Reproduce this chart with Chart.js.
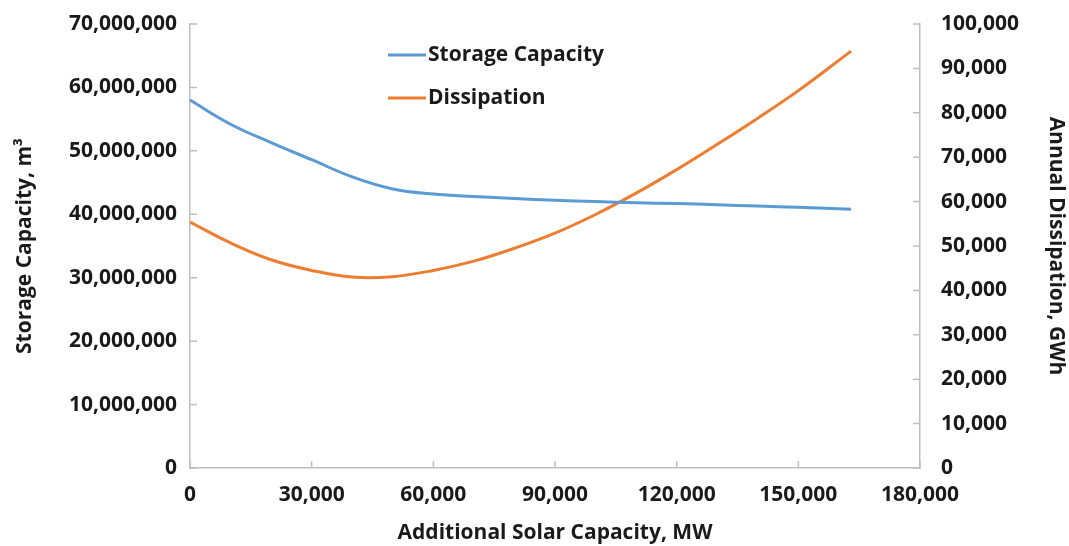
<!DOCTYPE html>
<html>
<head>
<meta charset="utf-8">
<script src="https://cdn.jsdelivr.net/npm/chart.js@4.4.1/dist/chart.umd.min.js"></script>
<style>
  html, body { margin: 0; padding: 0; background: #fff; }
  #wrap { width: 1069px; height: 546px; }
</style>
</head>
<body>
<div id="wrap"><canvas id="chart"></canvas></div>
<script>
// data
const solarMW = [0, 10000, 20000, 30000, 40000, 50000, 60000, 70000, 80000, 90000, 100000, 110000, 120000, 130000, 140000, 150000, 163000];
const storageM3 = [58.0e6, 54.2e6, 51.3e6, 48.6e6, 45.9e6, 44.0e6, 43.2e6, 42.8e6, 42.5e6, 42.2e6, 42.0e6, 41.8e6, 41.7e6, 41.5e6, 41.3e6, 41.1e6, 40.8e6];
const dissipationGWh = [55400, 50700, 46900, 44500, 43000, 43100, 44500, 46600, 49500, 52900, 57100, 61900, 67200, 72900, 78800, 85000, 93900];
const xTicks = [0, 30000, 60000, 90000, 120000, 150000, 180000];

const FONT = "'Open Sans', sans-serif";
const TEXT = "#1a1a1a";
const AXIS = "#bfbfbf";

const toPts = (ys) => solarMW.map((x, i) => ({ x, y: ys[i] }));
const fmt = (v) => Number(v).toLocaleString("en-US");
const boldFont = () => ({ family: FONT, size: 21, weight: "bold" });

// ticks that point into the plot, like the excel original
const innerTicks = {
  id: "innerTicks",
  afterDraw(chart) {
    const { ctx, chartArea: a, scales } = chart;
    ctx.save();
    ctx.strokeStyle = AXIS;
    ctx.lineWidth = 1.5;
    ctx.beginPath();
    scales.x.ticks.forEach((t) => {
      const px = scales.x.getPixelForValue(t.value);
      ctx.moveTo(px, a.bottom); ctx.lineTo(px, a.bottom - 7);
    });
    scales.y.ticks.forEach((t) => {
      const py = scales.y.getPixelForValue(t.value);
      ctx.moveTo(a.left, py); ctx.lineTo(a.left + 7, py);
    });
    scales.y1.ticks.forEach((t) => {
      const py = scales.y1.getPixelForValue(t.value);
      ctx.moveTo(a.right, py); ctx.lineTo(a.right - 7, py);
    });
    ctx.stroke();
    ctx.restore();
  }
};

// legend sitting inside the plot area
const innerLegend = {
  id: "innerLegend",
  afterDraw(chart) {
    const { ctx } = chart;
    ctx.save();
    ctx.font = "bold 21px " + FONT;
    ctx.textBaseline = "middle";
    chart.data.datasets.forEach((ds, i) => {
      const y = 55 + i * 43;
      ctx.strokeStyle = ds.borderColor;
      ctx.lineWidth = 3;
      ctx.beginPath();
      ctx.moveTo(388, y); ctx.lineTo(426, y);
      ctx.stroke();
      ctx.fillStyle = TEXT;
      ctx.fillText(ds.label, 428, y);
    });
    ctx.restore();
  }
};

const fitY = (w) => (s) => { s.width = w; s.paddingTop = 0; s.paddingBottom = 0; };

new Chart(document.getElementById("chart"), {
  type: "line",
  data: {
    datasets: [
      {
        label: "Storage Capacity",
        data: toPts(storageM3),
        yAxisID: "y",
        borderColor: "#5b9bd5",
        borderWidth: 3,
        pointRadius: 0,
        tension: 0.4
      },
      {
        label: "Dissipation",
        data: toPts(dissipationGWh),
        yAxisID: "y1",
        borderColor: "#ed7d31",
        borderWidth: 3,
        pointRadius: 0,
        tension: 0.4
      }
    ]
  },
  options: {
    responsive: true,
    maintainAspectRatio: false,
    animation: false,
    layout: { padding: { top: 24, left: 0, right: 0, bottom: 0 } },
    plugins: { legend: { display: false }, tooltip: { enabled: false } },
    scales: {
      x: {
        type: "linear",
        min: 0,
        max: 180000,
        afterBuildTicks: (s) => { s.ticks = xTicks.map((v) => ({ value: v })); },
        afterFit: (s) => { s.height = 78; },
        grid: { display: false, drawTicks: false },
        border: { color: AXIS, width: 1.5 },
        ticks: { color: TEXT, font: boldFont(), padding: 14, maxRotation: 0, callback: fmt },
        title: { display: true, text: "Additional Solar Capacity, MW", color: TEXT, font: boldFont(), padding: 0 }
      },
      y: {
        position: "left",
        min: 0,
        max: 70000000,
        afterFit: fitY(190),
        grid: { display: false, drawTicks: false },
        border: { color: AXIS, width: 1.5 },
        ticks: { stepSize: 10000000, color: TEXT, font: boldFont(), padding: 13, callback: fmt },
        title: { display: true, text: "Storage Capacity, m³", color: TEXT, font: boldFont(), padding: { top: 12 } }
      },
      y1: {
        position: "right",
        min: 0,
        max: 100000,
        afterFit: fitY(149),
        grid: { display: false, drawTicks: false },
        border: { color: AXIS, width: 1.5 },
        ticks: { stepSize: 10000, color: TEXT, font: boldFont(), padding: 21, callback: fmt },
        title: { display: true, text: "Annual Dissipation, GWh", color: TEXT, font: boldFont(), padding: { top: 0 } }
      }
    }
  },
  plugins: [innerTicks, innerLegend]
});
</script>
</body>
</html>
